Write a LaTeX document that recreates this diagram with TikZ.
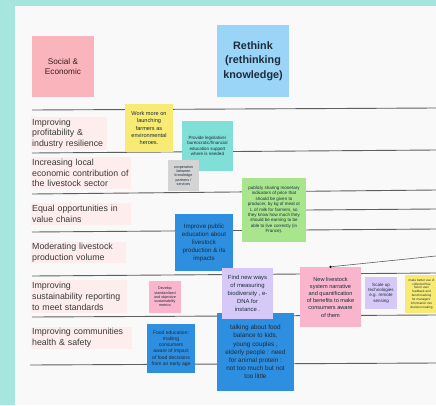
\documentclass[tikz,border=0pt]{standalone}
\usepackage{fontspec}
\setmainfont{Liberation Sans}
\definecolor{frameteal}{HTML}{A6E6DE}
\definecolor{board}{HTML}{F9F9F9}
\definecolor{rowline}{HTML}{5E5E5E}
\definecolor{rowpink}{HTML}{FDEDED}
\definecolor{rowtext}{HTML}{3A3A3A}
\definecolor{notepink}{HTML}{F9B5BB}
\definecolor{noterose}{HTML}{F8B5CC}
\definecolor{noteblue}{HTML}{9AD4F6}
\definecolor{notedeep}{HTML}{2E8EDF}
\definecolor{noteyellow}{HTML}{F8EB74}
\definecolor{noteteal}{HTML}{80DFD6}
\definecolor{notegrey}{HTML}{D4D4D4}
\definecolor{notegreen}{HTML}{A8E58C}
\definecolor{notelilac}{HTML}{D7C9F7}
\definecolor{inkdark}{HTML}{1C2C3C}
\begin{document}
\begin{tikzpicture}
        [
        x = 1pt, y = -1pt,
        row label/.style = {anchor = west, align = left, inner xsep = 1pt, inner ysep = 0pt, fill = rowpink, text = rowtext, font = \fontsize{8.8}{10.7}\selectfont},
        row line/.style = {draw = rowline, line width = 0.9pt},
        ]
        \tikzstyle{sticky node}=[rectangle,align=center,inner sep=1pt,text=inkdark]
        \tikzstyle{tiny text}=[font=\fontsize{3.7}{4.3}\selectfont]
        \tikzstyle{small text}=[font=\fontsize{4.5}{5.4}\selectfont]
        \tikzstyle{note text}=[font=\fontsize{5.6}{7.2}\selectfont]
        \tikzstyle{big text}=[font=\fontsize{6.4}{8.2}\selectfont]

        \useasboundingbox (0,0) rectangle (436,405);
        \clip (0,0) rectangle (436,405);
        \fill[frameteal] (0,0) rectangle (436,405);
        \fill[board] (15,6) rectangle (436,405);

        \draw[row line] (32,110) -- (436,108);
        \draw[row line] (32,153) -- (436,150);
        \draw[row line] (32,194) -- (436,190);
        \draw[row line] (32,232) -- (436,229);
        \draw[row line] (32,276) -- (436,273);
        \draw[row line] (32,317) -- (436,315);
        \draw[row line] (30,365) -- (436,363);

        \node[sticky node, fill=notepink, minimum width=62, minimum height=61, text=rowtext!80!red!60!black,
            font=\fontsize{8.2}{10.7}\selectfont] (social) at (63,66.5) {Social \&\\Economic};
        \node[sticky node, fill=noteblue, minimum width=72, minimum height=72,
            font=\fontsize{10.8}{14.5}\selectfont\bfseries] (rethink) at (253,61) {Rethink\\(rethinking\\knowledge)};

        \node[row label, text width=74, minimum height=33] (profit) at (31,133.5) {Improving\\profitability \&\\industry resilience};
        \node[row label, text width=98, minimum height=32] (local) at (31,173) {Increasing local\\economic contribution of\\the livestock sector};
        \node[row label, text width=98, minimum height=22] (equal) at (31,214) {Equal opportunities in\\value chains};
        \node[row label, text width=93, minimum height=21] (moderate) at (31,252.5) {Moderating livestock\\production volume};
        \node[row label, text width=94, minimum height=33] (reporting) at (31,296.5) {Improving\\sustainability reporting\\to meet standards};
        \node[row label, text width=99, minimum height=22] (health) at (31,338) {Improving communities\\health \& safety};

        \node[sticky node, note text, fill=noteyellow, minimum width=48, minimum height=48] (heroes) at (149,128)
            {Work more on\\launching\\farmers as\\environmental\\heroes.};
        \node[sticky node, small text, fill=noteteal, minimum width=51, minimum height=50] (legal) at (207.5,146)
            {Provide legislative/\\bureocratic/financial\\education support\\where is needed};
        \node[sticky node, tiny text, fill=notegrey, minimum width=31, minimum height=31] (coop) at (183.5,175.5)
            {cooperation\\between\\knowledge\\partners /\\services};
        \node[sticky node, small text, fill=notegreen, minimum width=64, minimum height=64] (prices) at (274,210)
            {publicly sharing monetary\\indicators of price that\\should be given to\\producer, by kg of meat or\\L of milk for farmers, so\\they know how much they\\should be earning to be\\able to live correctly (in\\France).};
        \node[sticky node, fill=notedeep, minimum width=58, minimum height=57, font=\fontsize{6.2}{8}\selectfont] (public) at (204,242.5)
            {Improve public\\education about\\livestock\\production \& its\\impacts};
        \node[sticky node, big text, fill=notedeep, minimum width=77, minimum height=78] (balance) at (255.5,352)
            {talking about food\\balance to kids,\\young couples ,\\elderly people : need\\for animal protein :\\not too much but not\\too little};
        \node[sticky node, fill=notelilac, minimum width=51, minimum height=51, font=\fontsize{5.9}{8.1}\selectfont] (measure) at (247.5,293.5)
            {Find new ways\\of measuring\\biodiversity , e-\\DNA for\\instance .};
        \node[sticky node, note text, fill=noterose, minimum width=61, minimum height=60] (narrative) at (330.5,297)
            {New livestock\\system narrative\\and quantification\\of benefits to make\\consumers aware\\of them};
        \node[sticky node, small text, fill=notelilac, minimum width=32, minimum height=32] (scale) at (381,293)
            {Scale up\\technologies\\e.g. remote\\sensing};
        \node[sticky node, font=\fontsize{3.1}{3.9}\selectfont, fill=noteyellow, minimum width=33, minimum height=38] (feedback) at (421.5,294)
            {make better use of\\collected free\\forum user\\feedback and\\benchmarking\\for managers'\\information into\\decision making};
        \node[sticky node, tiny text, fill=noterose, minimum width=32, minimum height=32] (metrics) at (165,297)
            {Develop\\standardized\\and objective\\sustainability\\metrics};
        \node[sticky node, font=\fontsize{5}{6.2}\selectfont, fill=notedeep, minimum width=48, minimum height=49] (food) at (171,348.5)
            {Food education:\\making\\consumers\\aware of impact\\of food decisions\\from an early age};

        \coordinate (priceend) at (436,209);
        \coordinate (storyend) at (436,256);
        \draw[row line] (prices.east) -- (priceend);
        \draw[rowline, line width=0.6pt] (narrative.north) -- (storyend);
        \fill[black] (narrative.north) circle (1.2);
    \end{tikzpicture}
\end{document}
